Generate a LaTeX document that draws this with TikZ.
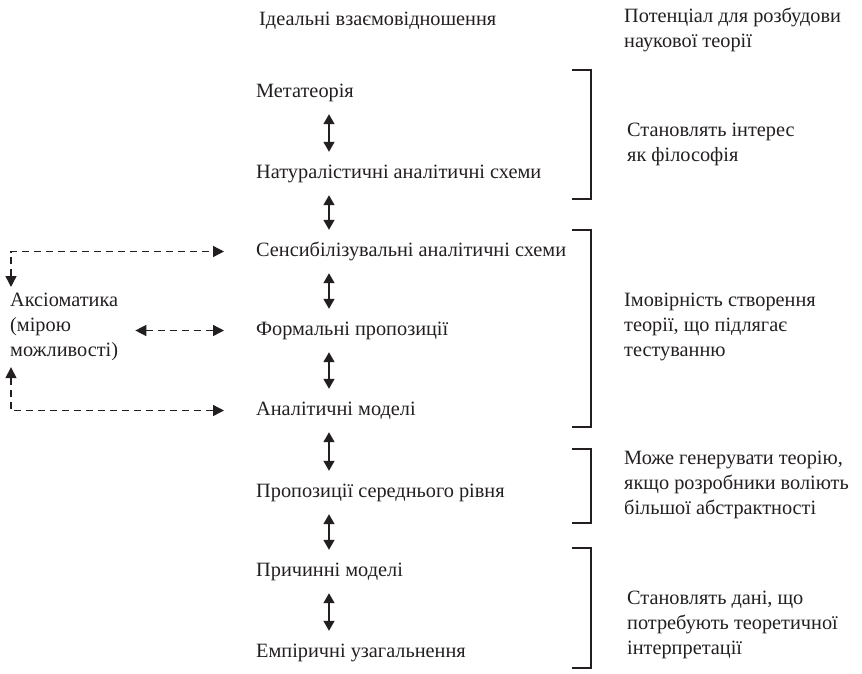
\documentclass[tikz,border=0pt]{standalone}
\usepackage{fontspec}
\setmainfont{Liberation Serif}
\usetikzlibrary{arrows.meta,positioning,calc}
\definecolor{inkline}{HTML}{231F20}
\begin{document}
\begin{tikzpicture}[x=1pt,y=-1pt,font=\fontsize{20.3}{25}\selectfont,text=inkline,
level/.style={anchor=base west,inner sep=2pt,text height=14pt,text depth=5pt},
remark/.style={anchor=north west,align=left,inner sep=0pt},
updown/.style={{Triangle[length=10pt,width=11pt]}-{Triangle[length=10pt,width=11pt]},line width=1.5pt,draw=inkline,shorten <=10pt,shorten >=10pt},
dashlink/.style={{Triangle[length=11pt,width=11pt]}-{Triangle[length=11pt,width=11pt]},line width=1.4pt,draw=inkline,dash pattern=on 7pt off 5pt},
bracket/.style={line width=1.3pt,draw=inkline}]
\useasboundingbox (0,0) rectangle (862,673);
\coordinate (axis) at (329,0);
\coordinate (vline) at (11,0);
\node[level] (ideal) at (257,25) {Ідеальні взаємовідношення};
\node[remark] (potential) at (624,8) {Потенціал для розбудови\\наукової теорії};
\node[level] (metatheory) at (254,97) {Метатеорія};
\node[level] (natschemes) at (254,178) {Натуралістичні аналітичні схеми};
\node[level] (sensschemes) at (254,256) {Сенсибілізувальні аналітичні схеми};
\node[level] (formal) at (254,335) {Формальні пропозиції};
\node[level] (anmodels) at (254,415) {Аналітичні моделі};
\node[level] (midrange) at (254,497) {Пропозиції середнього рівня};
\node[level] (causal) at (254,576) {Причинні моделі};
\node[level] (empirical) at (254,657) {Емпіричні узагальнення};
\draw[updown] (metatheory.south -| axis) -- (natschemes.north -| axis);
\draw[updown] (natschemes.south -| axis) -- (sensschemes.north -| axis);
\draw[updown] (sensschemes.south -| axis) -- (formal.north -| axis);
\draw[updown] (formal.south -| axis) -- (anmodels.north -| axis);
\draw[updown] (anmodels.south -| axis) -- (midrange.north -| axis);
\draw[updown] (midrange.south -| axis) -- (causal.north -| axis);
\draw[updown] (causal.south -| axis) -- (empirical.north -| axis);
\node[remark] (axioms) at (10,293) {Аксіоматика\\(мірою\\можливості)};
\draw[dashlink,shorten <=6pt,shorten >=30pt] (axioms.north -| vline) |- (sensschemes.west);
\draw[dashlink,shorten <=6pt,shorten >=30pt] (axioms.south -| vline) |- (anmodels.west);
\draw[dashlink,shorten <=17pt,shorten >=30pt] (formal.west -| axioms.east) -- (formal.west);
\draw[bracket] (572,70) -| (591,199) -- (572,199);
\draw[bracket] (572,230) -| (591,427) -- (572,427);
\draw[bracket] (572,449) -| (591,523) -- (572,523);
\draw[bracket] (572,548) -| (591,668) -- (572,668);
\node[remark] (philosophy) at (627,123) {Становлять інтерес\\як філософія};
\node[remark] (testable) at (624,293) {Імовірність створення\\теорії, що підлягає\\тестуванню};
\node[remark] (abstract) at (624,451) {Може генерувати теорію,\\якщо розробники воліють\\більшої абстрактності};
\node[remark] (interpret) at (627,591) {Становлять дані, що\\потребують теоретичної\\інтерпретації};
\end{tikzpicture}
\end{document}
